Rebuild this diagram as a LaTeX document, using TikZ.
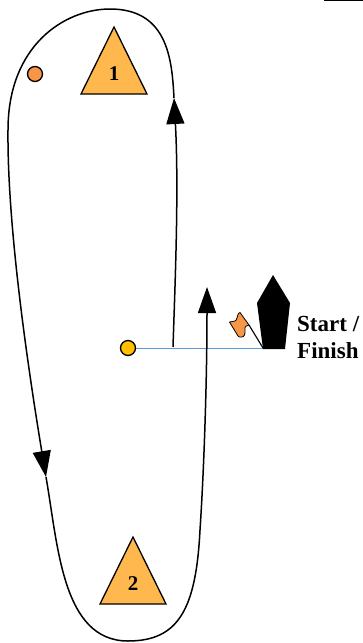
\documentclass[tikz,border=0pt]{standalone}
\usepackage{fontspec}
\setmainfont{Liberation Serif}
\usetikzlibrary{arrows.meta}

\begin{document}
\begin{tikzpicture}[
    x=1pt,
    y=-1pt,
    >={Triangle[length=26pt,width=18pt]},
    course/.style={draw=black, line width=1.5pt},
    buoy/.style={draw=black, line width=1.3pt, fill=buoyfill, line join=miter},
    pin/.style={circle, draw=black, line width=1.3pt, minimum size=15pt, inner sep=0pt},
    marknum/.style={font=\bfseries\fontsize{21}{21}\selectfont, inner sep=0pt},
    boxlabel/.style={font=\bfseries\fontsize{23}{27}\selectfont, align=left, anchor=west, inner sep=0pt}
  ]
  \definecolor{buoyfill}{HTML}{FFB84D}
  \definecolor{pinyellow}{HTML}{FFC000}
  \definecolor{pinorange}{HTML}{F79646}
  \definecolor{lineblue}{HTML}{5B9BD5}

  \useasboundingbox (0,0) rectangle (363,643);

  % marks
  \draw[buoy] (114,27) -- (147,94) -- (81,94) -- cycle;
  \node[marknum] (m1) at (114,74) {1};
  \draw[buoy] (133,537) -- (166,604) -- (100,604) -- cycle;
  \node[marknum] (m2) at (133,584) {2};
  \node[pin, fill=pinorange] (offset) at (35,74) {};

  % course points
  \coordinate (cstart) at (173,347);
  \coordinate (tipa) at (174,98);
  \coordinate (ctop) at (110,9);
  \coordinate (cleft) at (8,130);
  \coordinate (tipb) at (46,477);
  \coordinate (cbot) at (128,641);
  \coordinate (cright) at (200,530);
  \coordinate (tipc) at (207,287);

  % start line and boat
  \coordinate (boatfoot) at (263,348);
  \fill[black] (273,275) -- (290,303) -- (285,349) -- (263,349) -- (257,303) -- cycle;
  \node[pin, fill=pinyellow] (pinend) at (128,348) {};
  \draw[lineblue, line width=1pt] (pinend) -- (boatfoot);

  % flag
  \coordinate (flagtop) at (249,325);
  \draw[line width=1.1pt] (boatfoot) -- (flagtop);
  \draw[fill=pinorange, line width=0.8pt, line join=round] (229.5,322) .. controls (234,321) and (236,322) .. (237,318)
    .. controls (238,314) and (238.5,312.5) .. (240,312.5)
    -- (249,325)
    .. controls (246,326) and (244.5,326) .. (245,330)
    .. controls (245.5,334) and (244,337) .. (242,337)
    .. controls (240,337.5) and (239,337) .. (238,336)
    -- cycle;

  % course
  \draw[course, ->] (cstart) .. controls (175,285) and (179,190) .. (tipa);
  \draw[course] (tipa) .. controls (172,60) and (168,9) .. (ctop);
  \draw[course] (ctop) .. controls (65,9) and (8,45) .. (cleft);
  \draw[course, ->] (cleft) .. controls (7,230) and (30,380) .. (tipb);
  \draw[course] (tipb) .. controls (58,545) and (62,641) .. (cbot);
  \draw[course] (cbot) .. controls (178,641) and (196,610) .. (cright);
  \draw[course, ->] (cright) .. controls (204,470) and (207,380) .. (tipc);

  % label
  \node[boxlabel] (startlabel) at (297,337) {Start /\\Finish};

  % top edge
  \coordinate (rulea) at (324,0.5);
  \coordinate (ruleb) at (363,0.5);
  \draw[line width=1pt] (rulea) -- (ruleb);

\end{tikzpicture}
\end{document}
